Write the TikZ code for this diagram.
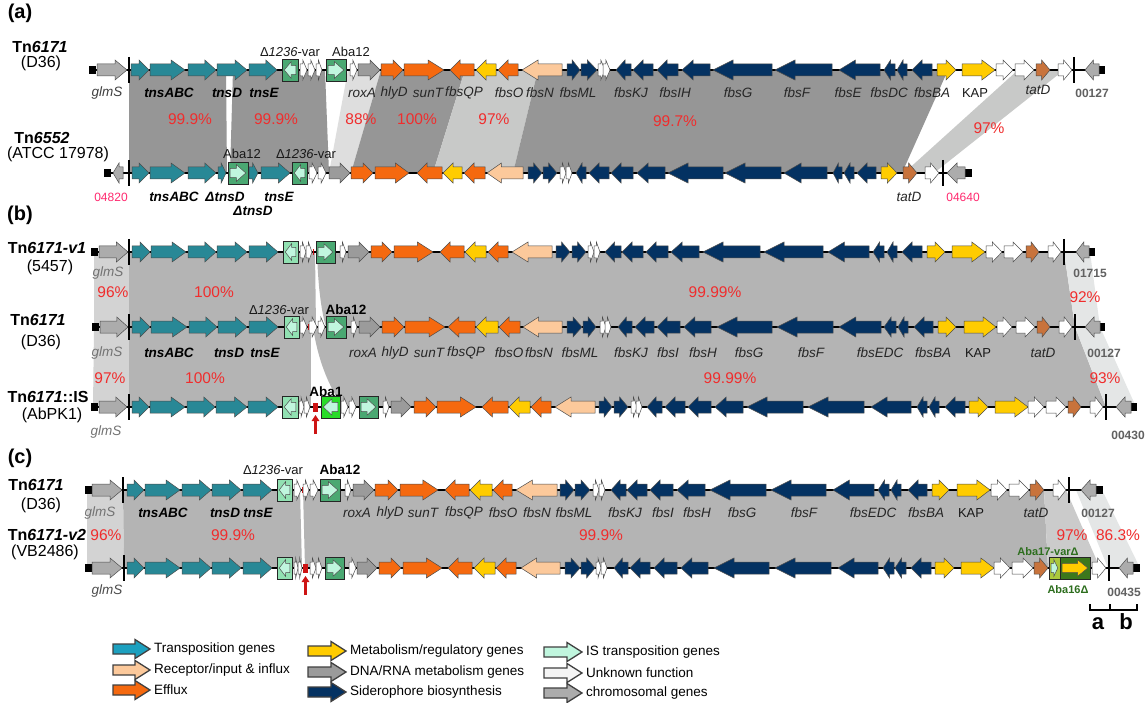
\documentclass[tikz,border=0pt]{standalone}
\usepackage{fontspec}
\setmainfont{Liberation Sans}
\usetikzlibrary{arrows.meta}
\definecolor{tns}{RGB}{40,136,150}
\definecolor{efx}{RGB}{245,105,15}
\definecolor{met}{RGB}{255,204,0}
\definecolor{rec}{RGB}{252,201,155}
\definecolor{sid}{RGB}{4,50,98}
\definecolor{chr}{RGB}{172,172,172}
\definecolor{dna}{RGB}{155,155,155}
\definecolor{wh}{RGB}{255,255,255}
\definecolor{tat}{RGB}{200,115,60}
\definecolor{isd}{RGB}{74,168,114}
\definecolor{isl}{RGB}{145,225,178}
\definecolor{mint}{RGB}{192,246,222}
\definecolor{abaone}{RGB}{40,220,40}
\definecolor{pct}{RGB}{240,45,45}
\definecolor{pinkc}{RGB}{255,40,110}
\definecolor{shA}{RGB}{150,150,150}
\definecolor{shAl}{RGB}{200,201,200}
\definecolor{shAx}{RGB}{222,222,222}
\definecolor{shB}{RGB}{180,180,180}
\definecolor{shL}{RGB}{211,211,211}
\definecolor{shR}{RGB}{228,230,230}
\definecolor{shC}{RGB}{203,203,203}
\definecolor{abg}{RGB}{45,110,30}
\definecolor{oliv}{RGB}{60,120,28}
\definecolor{ygrn}{RGB}{170,200,60}
\definecolor{redm}{RGB}{205,20,20}
\definecolor{legtn}{RGB}{28,160,191}
\definecolor{legwh}{RGB}{244,244,244}
\tikzset{
 qgene/.style={draw=black!70,line width=0.5pt,line join=miter},
 qis/.style={draw=black!85,line width=0.9pt},
 qbbs/.style={line width=2.8pt,black},
 qgl/.style={inner sep=0,font=\fontsize{13.5}{15}\selectfont\itshape,text=black!85},
 qgb/.style={inner sep=0,font=\fontsize{13.5}{15}\selectfont\bfseries\itshape,text=black},
 qgg/.style={inner sep=0,font=\fontsize{13.5}{15}\selectfont\itshape,text=black!55},
 qup/.style={inner sep=0,font=\fontsize{13}{15}\selectfont,text=black!90},
 qupb/.style={inner sep=0,font=\fontsize{13.5}{15}\selectfont\bfseries,text=black},
 qpc/.style={inner sep=0,font=\fontsize{15.5}{17}\selectfont,text=pct},
 qnum/.style={inner sep=0,font=\fontsize{12}{14}\selectfont\bfseries,text=black!62},
 qpnum/.style={inner sep=0,font=\fontsize{12}{14}\selectfont,text=pinkc},
 qtn/.style={inner sep=0,font=\fontsize{16}{18}\selectfont\bfseries},
 qst/.style={inner sep=0,font=\fontsize{16}{18}\selectfont},
 qpan/.style={inner sep=0,font=\fontsize{20}{22}\selectfont\bfseries},
 qleg/.style={inner sep=0,anchor=west,font=\fontsize{13.5}{15}\selectfont},
 qlegar/.style={draw=black!75,line width=1.3pt,line join=miter},
 qgrn/.style={inner sep=0,font=\fontsize{11}{13}\selectfont\bfseries,text=abg},
 qred/.style={draw=redm,line width=2.6pt,-{Triangle[width=7.5pt,length=6pt]}},
}
\def\bh{6}\def\hh{10}
\newcommand\gR[3]{%
  \pgfmathsetmacro\hlen{min(0.6*(#2-#1),max(10,min(20,0.4*(#2-#1))))}%
  \filldraw[qgene,fill=#3] (#1,\Y-\bh) -- ({#2-\hlen},\Y-\bh) -- ({#2-\hlen},\Y-\hh) -- (#2,\Y) -- ({#2-\hlen},\Y+\hh) -- ({#2-\hlen},\Y+\bh) -- (#1,\Y+\bh) -- cycle;}
\newcommand\gL[3]{%
  \pgfmathsetmacro\hlen{min(0.6*(#2-#1),max(10,min(20,0.4*(#2-#1))))}%
  \filldraw[qgene,fill=#3] (#2,\Y-\bh) -- ({#1+\hlen},\Y-\bh) -- ({#1+\hlen},\Y-\hh) -- (#1,\Y) -- ({#1+\hlen},\Y+\hh) -- ({#1+\hlen},\Y+\bh) -- (#2,\Y+\bh) -- cycle;}
\newcommand\isb[5]{%
  \filldraw[qis,fill=#3] (#1,\Y-11) rectangle (#2,\Y+11);
  \pgfmathsetmacro\ia{#1+2.2}\pgfmathsetmacro\ib{#2-2.2}%
  \begingroup\def\bh{4.6}\def\hh{8.3}%
  \ifx R#4\gR{\ia}{\ib}{#5}\else\gL{\ia}{\ib}{#5}\fi
  \endgroup}
\newcommand\qbb[2]{%
  \draw[qbbs] (#1,\Y) -- (#2,\Y);
  \fill (#1-1,\Y-4) rectangle (#1+6,\Y+4);
  \fill (#2-6,\Y-4) rectangle (#2+1,\Y+4);}
\newcommand\qbar[1]{\draw[line width=2.3pt] (#1,\Y-13) -- (#1,\Y+13);}
\newcommand\rtick[1]{\fill[redm] (#1,\Y-3) rectangle (#1+1.5,\Y+3);}
\newcommand\legR[4]{\filldraw[qlegar,fill=#4] (#1,#3-5) -- (#2-15,#3-5) -- (#2-15,#3-9.5) -- (#2,#3) -- (#2-15,#3+9.5) -- (#2-15,#3+5) -- (#1,#3+5) -- cycle;}
\begin{document}
\begin{tikzpicture}[x=1pt,y=-1pt]
\useasboundingbox[fill=white] (0,0) rectangle (1148,703);
% ================= (a) shading
\fill[shA] (129,70) -- (226,70) -- (227,173) -- (129,173) -- cycle;
\fill[shA] (233,70) -- (325,70) -- (329,173) -- (230,173) -- cycle;
\fill[shAx] (348,70) -- (381,70) -- (351,173) -- (329,173) -- cycle;
\fill[shA] (381,70) -- (465,70) -- (433,173) -- (351,173) -- cycle;
\fill[shAl] (465,70) -- (538,70) -- (513,173) -- (433,173) -- cycle;
\fill[shA] (538,70) -- (948,70) -- (902,173) -- (513,173) -- cycle;
\fill[shAl] (1018,70) -- (1064,70) -- (934,173) -- (904,173) -- cycle;
% ================= (b) shading
\fill[shL] (94,252) -- (129,252) -- (129,327) -- (94,327) -- cycle;
\fill[shB] (129,252) -- (315,252) -- (316,327) -- (129,327) -- cycle;
\fill[shB] (317,252) -- (1064,252) -- (1075,327) -- (326,327) .. controls (321,310) and (318,285) .. (317,252) -- cycle;
\fill[shR] (1064,252) -- (1090,252) -- (1100,327) -- (1075,327) -- cycle;
\fill[shL] (94,327) -- (129,327) -- (129,407) -- (93,407) -- cycle;
\fill[shB] (129,327) -- (311,327) -- (311,407) -- (129,407) -- cycle;
\fill[shB] (313,327) -- (1075,327) -- (1106,407) -- (343,407) .. controls (328,385) and (318,360) .. (313,327) -- cycle;
\fill[shR] (1075,327) -- (1100,327) -- (1136,407) -- (1106,407) -- cycle;
% ================= (c) shading
\fill[shL] (87,490) -- (123,490) -- (124,568) -- (87,568) -- cycle;
\fill[shB] (123,490) -- (300,490) -- (302,568) -- (124,568) -- cycle;
\fill[shB] (303,490) -- (1044,490) -- (1048,568) -- (305,568) -- cycle;
\fill[shC] (1044,490) -- (1066,490) -- (1100,568) -- (1048,568) -- cycle;
\fill[shR] (1076,490) -- (1102,490) -- (1140,568) -- (1108,568) -- cycle;
% ================= row a1
\def\Y{70}
\qbb{90}{1104}
\gR{97}{127}{chr}\qbar{129}
\gR{131}{149}{tns}\gR{150}{185}{tns}\gR{188}{216}{tns}\gR{217}{247}{tns}\gR{249}{277}{tns}
\isb{282}{298}{isd}{L}{mint}
\gR{300}{307}{wh}\gR{308}{315}{wh}\gR{316}{322}{wh}
\isb{326}{346}{isd}{R}{mint}
\gR{350}{357}{wh}
\gR{358}{380}{dna}\gR{381}{403}{efx}\gR{404}{444}{efx}
\gL{450}{474}{efx}\gL{476}{496}{met}\gL{498}{518}{efx}\gL{522}{562}{rec}
\gR{567}{580}{sid}\gR{581}{597}{sid}\gR{598}{605}{wh}\gR{603}{610}{wh}
\gL{616}{631}{sid}\gL{633}{653}{sid}\gL{657}{678}{sid}\gL{682}{710}{sid}\gL{713}{772}{sid}\gL{775}{832}{sid}\gL{839}{880}{sid}\gL{884}{895}{sid}\gL{897}{907}{sid}\gL{912}{932}{sid}
\gR{937}{956}{met}\gR{962}{995}{met}\gR{996}{1013}{wh}\gR{1015}{1034}{wh}\gR{1036}{1050}{tat}\gR{1058}{1072}{wh}
\qbar{1074}
\gL{1085}{1099}{chr}
% ================= row a2
\def\Y{173}
\qbb{105}{971}
\gL{113}{123}{chr}\qbar{129}
\gR{132}{149}{tns}\gR{150}{185}{tns}\gR{188}{216}{tns}\gR{218}{226}{tns}
\isb{228}{248}{isd}{R}{mint}
\gR{249}{258}{tns}\gR{261}{290}{tns}
\isb{292}{307}{isd}{L}{mint}
\gR{309}{317}{wh}\gR{318}{326}{wh}
\gR{329}{350}{dna}\gR{351}{373}{efx}\gR{375}{409}{efx}
\gL{417}{442}{efx}\gL{443}{462}{met}\gL{464}{485}{efx}\gL{487}{523}{rec}
\gR{528}{542}{sid}\gR{543}{557}{sid}\gR{560}{566}{wh}\gR{566}{572}{wh}
\gL{576}{586}{sid}\gL{589}{609}{sid}\gL{611}{633}{sid}\gL{637}{665}{sid}\gL{668}{723}{sid}\gL{725}{781}{sid}\gL{784}{827}{sid}\gL{833}{842}{sid}\gL{844}{854}{sid}\gL{857}{876}{sid}
\gR{881}{897}{met}\gR{903}{917}{tat}\gR{925}{939}{wh}
\qbar{943}
\gL{947}{965}{chr}
% ================= row b1
\def\Y{252}
\qbb{92}{1094}
\gR{99}{128}{chr}\qbar{129}
\gR{132}{150}{tns}\gR{151}{186}{tns}\gR{188}{216}{tns}\gR{217}{247}{tns}\gR{249}{278}{tns}
\isb{283}{298}{isl}{L}{mint}
\gR{300}{306}{wh}\gR{306}{312}{wh}\rtick{312.5}
\isb{316}{335}{isd}{R}{mint}
\gR{340}{346}{wh}
\gR{348}{369}{dna}\gR{371}{392}{efx}\gR{394}{433}{efx}
\gL{440}{464}{efx}\gL{465}{486}{met}\gL{488}{508}{efx}\gL{512}{552}{rec}
\gR{556}{570}{sid}\gR{572}{586}{sid}\gR{588}{594}{wh}\gR{594}{600}{wh}
\gL{605}{621}{sid}\gL{622}{643}{sid}\gL{646}{668}{sid}\gL{671}{699}{sid}\gL{703}{760}{sid}\gL{764}{823}{sid}\gL{828}{869}{sid}\gL{873}{884}{sid}\gL{887}{897}{sid}\gL{902}{922}{sid}
\gR{927}{945}{met}\gR{952}{985}{met}\gR{986}{1002}{wh}\gR{1004}{1023}{wh}\gR{1026}{1039}{tat}\gR{1048}{1061}{wh}
\qbar{1064}
\gL{1076}{1089}{chr}
% ================= row b2
\def\Y{327}
\qbb{93}{1104}
\gR{100}{128}{chr}\qbar{129}
\gR{132}{150}{tns}\gR{151}{187}{tns}\gR{189}{217}{tns}\gR{218}{247}{tns}\gR{249}{278}{tns}
\isb{284}{299}{isl}{L}{mint}
\gR{300}{307}{wh}\rtick{308}\gR{309}{317}{wh}\gR{318}{325}{wh}
\isb{326}{346}{isd}{R}{mint}
\gR{351}{357}{wh}
\gR{359}{380}{dna}\gR{382}{404}{efx}\gR{405}{445}{efx}
\gL{448}{475}{efx}\gL{476}{498}{met}\gL{499}{520}{efx}\gL{523}{562}{rec}
\gR{567}{582}{sid}\gR{583}{596}{sid}\gR{600}{606}{wh}\gR{605}{611}{wh}
\gL{618}{632}{sid}\gL{635}{654}{sid}\gL{657}{680}{sid}\gL{684}{711}{sid}\gL{717}{772}{sid}\gL{777}{833}{sid}\gL{839}{881}{sid}\gL{884}{896}{sid}\gL{898}{908}{sid}\gL{914}{933}{sid}
\gR{938}{956}{met}\gR{964}{996}{met}\gR{997}{1012}{wh}\gR{1016}{1035}{wh}\gR{1037}{1050}{tat}\gR{1059}{1072}{wh}
\qbar{1075}
\gL{1085}{1100}{chr}
% ================= row b3
\def\Y{407}
\qbb{92}{1136}
\gR{99}{127}{chr}\qbar{129}
\gR{132}{149}{tns}\gR{150}{185}{tns}\gR{187}{215}{tns}\gR{216}{247}{tns}\gR{248}{278}{tns}
\isb{282}{298}{isl}{L}{mint}
\gR{299}{304}{wh}\gR{304}{310}{wh}
\fill[redm] (313,\Y-4.5) rectangle (318,\Y+4.5);
\isb{321}{340}{abaone}{L}{mint}
\gR{341}{348}{wh}\gR{349}{356}{wh}
\isb{359}{378}{isd}{R}{mint}
\gR{383}{389}{wh}
\gR{391}{411}{dna}\gR{414}{436}{efx}\gR{437}{476}{efx}
\gL{482}{508}{efx}\gL{509}{530}{met}\gL{531}{551}{efx}\gL{555}{595}{rec}
\gR{599}{612}{sid}\gR{614}{628}{sid}\gR{631}{637}{wh}\gR{636}{642}{wh}
\gL{647}{662}{sid}\gL{665}{685}{sid}\gL{688}{711}{sid}\gL{715}{743}{sid}\gL{747}{803}{sid}\gL{808}{864}{sid}\gL{871}{911}{sid}\gL{917}{927}{sid}\gL{929}{939}{sid}\gL{945}{965}{sid}
\gR{969}{988}{met}\gR{995}{1028}{met}\gR{1028}{1044}{wh}\gR{1046}{1066}{wh}\gR{1068}{1081}{tat}\gR{1090}{1103}{wh}
\qbar{1106}
\gL{1116}{1131}{chr}
\coordinate (r1s) at (315.5,434);
\coordinate (r1e) at (315.5,415);
\draw[qred] (r1s) -- (r1e);
% ================= row c1
\def\Y{490}
\qbb{86}{1102}
\gR{92}{122}{chr}\qbar{123}
\gR{127}{144}{tns}\gR{145}{180}{tns}\gR{182}{211}{tns}\gR{212}{241}{tns}\gR{243}{272}{tns}
\isb{277}{292}{isl}{L}{mint}
\gR{294}{301}{wh}\rtick{302}\gR{303}{309}{wh}\gR{310}{318}{wh}
\isb{320}{340}{isd}{R}{mint}
\gR{345}{351}{wh}
\gR{353}{374}{dna}\gR{375}{398}{efx}\gR{400}{438}{efx}
\gL{445}{469}{efx}\gL{470}{492}{met}\gL{493}{512}{efx}\gL{516}{557}{rec}
\gR{560}{574}{sid}\gR{575}{590}{sid}\gR{593}{599}{wh}\gR{599}{605}{wh}
\gL{611}{626}{sid}\gL{627}{647}{sid}\gL{650}{673}{sid}\gL{677}{705}{sid}\gL{710}{766}{sid}\gL{771}{826}{sid}\gL{833}{874}{sid}\gL{878}{889}{sid}\gL{891}{901}{sid}\gL{908}{927}{sid}
\gR{932}{949}{met}\gR{957}{990}{met}\gR{991}{1007}{wh}\gR{1009}{1029}{wh}\gR{1030}{1044}{tat}\gR{1053}{1066}{wh}
\qbar{1069}
\gL{1081}{1096}{chr}
% ================= row c2
\def\Y{568}
\qbb{86}{1139}
\gR{92}{122}{chr}\qbar{124}
\gR{127}{144}{tns}\gR{145}{180}{tns}\gR{182}{211}{tns}\gR{212}{241}{tns}\gR{243}{272}{tns}
\isb{277}{292}{isl}{L}{mint}
\gR{294}{298}{wh}\gR{298}{302}{wh}
\fill[redm] (303,\Y-4.5) rectangle (308,\Y+4.5);
\gR{310}{316}{wh}\gR{316}{322}{wh}
\isb{325}{344}{isd}{R}{mint}
\gR{349}{356}{wh}
\gR{357}{377}{dna}\gR{379}{401}{efx}\gR{403}{442}{efx}
\gL{448}{472}{efx}\gL{474}{495}{met}\gL{496}{516}{efx}\gL{521}{560}{rec}
\gR{565}{580}{sid}\gR{581}{595}{sid}\gR{596}{601}{wh}\gR{601}{607}{wh}
\gL{614}{628}{sid}\gL{630}{650}{sid}\gL{654}{677}{sid}\gL{681}{708}{sid}\gL{714}{769}{sid}\gL{775}{831}{sid}\gL{838}{878}{sid}\gL{883}{894}{sid}\gL{895}{906}{sid}\gL{911}{931}{sid}
\gR{935}{954}{met}\gR{961}{994}{met}\gR{994}{1010}{wh}\gR{1012}{1033}{wh}\gR{1034}{1048}{tat}
\isb{1049}{1060}{ygrn}{R}{mint}
\isb{1060}{1090}{oliv}{R}{met}
\gR{1092}{1106}{wh}
\qbar{1109}
\gL{1119}{1133}{chr}
\coordinate (r2s) at (305.5,595);
\coordinate (r2e) at (305.5,576);
\draw[qred] (r2s) -- (r2e);
% ================= panel labels and strain names
\node[qpan] (pa) at (20,13) {(a)};
\node[qpan] (pb) at (20,215) {(b)};
\node[qpan] (pc) at (20,458) {(c)};
\node[qtn] (na1) at (40,47) {Tn\textit{6171}};
\node[qst] (sa1) at (41,63) {(D36)};
\node[qtn] (na2) at (42,138) {Tn\textit{6552}};
\node[qst] (sa2) at (58,154) {(ATCC 17978)};
\node[qtn] (nb1) at (47,248) {Tn\textit{6171-v1}};
\node[qst] (sb1) at (50,267) {(5457)};
\node[qtn] (nb2) at (38,320) {Tn\textit{6171}};
\node[qst] (sb2) at (41,342) {(D36)};
\node[qtn] (nb3) at (48,397) {Tn\textit{6171}::IS};
\node[qst] (sb3) at (52,415) {(AbPK1)};
\node[qtn] (nc1) at (36,485) {Tn\textit{6171}};
\node[qst] (sc1) at (41,505) {(D36)};
\node[qtn] (nc2) at (47,535) {Tn\textit{6171-v2}};
\node[qst] (sc2) at (45,552) {(VB2486)};
% ================= (a) labels
\node[qup] (a1is) at (290,52) {Δ\textit{1236}-var};
\node[qup] (a1ab) at (351,52) {Aba12};
\node[qgl,text=black!75] (a1g1) at (107,93) {glmS};
\node[qgb] (a1g2) at (169,93) {tnsABC};
\node[qgb] (a1g3) at (227,93) {tnsD};
\node[qgb] (a1g4) at (264,93) {tnsE};
\node[qgl] (a1g5) at (362,93) {roxA};
\node[qgl] (a1g6) at (394,93) {hlyD};
\node[qgl] (a1g7) at (428,93) {sunT};
\node[qgl] (a1g8) at (464,93) {fbsQP};
\node[qgl] (a1g9) at (509,93) {fbsO};
\node[qgl] (a1g10) at (540,93) {fbsN};
\node[qgl] (a1g11) at (578,93) {fbsML};
\node[qgl] (a1g12) at (631,93) {fbsKJ};
\node[qgl] (a1g13) at (675,93) {fbsIH};
\node[qgl] (a1g14) at (738,93) {fbsG};
\node[qgl] (a1g15) at (797,93) {fbsF};
\node[qgl] (a1g16) at (848,93) {fbsE};
\node[qgl] (a1g17) at (889,93) {fbsDC};
\node[qgl] (a1g18) at (932,93) {fbsBA};
\node[qup] (a1g19) at (975,93) {KAP};
\node[qgl] (a1g20) at (1038,90) {tatD};
\node[qnum] (a1n) at (1092,93) {00127};
\node[qup] (a2ab) at (242,154) {Aba12};
\node[qup] (a2is) at (306,154) {Δ\textit{1236}-var};
\node[qpnum] (a2n1) at (111,197) {04820};
\node[qgb] (a2g1) at (174,197) {tnsABC};
\node[qgb] (a2g2) at (225,197) {ΔtnsD};
\node[qgb] (a2g3) at (279,197) {tnsE};
\node[qgb] (a2g4) at (253,211) {ΔtnsD};
\node[qgl] (a2g5) at (909,197) {tatD};
\node[qpnum] (a2n2) at (963,197) {04640};
\node[qpc] (ap1) at (190,119) {99.9\%};
\node[qpc] (ap2) at (276,119) {99.9\%};
\node[qpc] (ap3) at (361,119) {88\%};
\node[qpc] (ap4) at (417,119) {100\%};
\node[qpc] (ap5) at (494,119) {97\%};
\node[qpc] (ap6) at (675,121) {99.7\%};
\node[qpc] (ap7) at (989,128) {97\%};
% ================= (b) labels
\node[qgg] (b1g) at (108,273) {glmS};
\node[qnum] (b1n) at (1090,273) {01715};
\node[qpc] (bp1) at (113,292) {96\%};
\node[qpc] (bp2) at (214,292) {100\%};
\node[qpc] (bp3) at (715,292) {99.99\%};
\node[qpc] (bp4) at (1085,297) {92\%};
\node[qup] (b2is) at (279,310) {Δ\textit{1236}-var};
\node[qupb] (b2ab) at (346,310) {Aba12};
\node[qgg] (b2g1) at (107,353) {glmS};
\node[qgb] (b2g2) at (169,353) {tnsABC};
\node[qgb] (b2g3) at (229,353) {tnsD};
\node[qgb] (b2g4) at (265,353) {tnsE};
\node[qgl] (b2g5) at (363,353) {roxA};
\node[qgl] (b2g6) at (395,353) {hlyD};
\node[qgl] (b2g7) at (429,353) {sunT};
\node[qgl] (b2g8) at (466,353) {fbsQP};
\node[qgl] (b2g9) at (509,353) {fbsO};
\node[qgl] (b2g10) at (539,353) {fbsN};
\node[qgl] (b2g11) at (580,353) {fbsML};
\node[qgl] (b2g12) at (631,353) {fbsKJ};
\node[qgl] (b2g13) at (668,353) {fbsI};
\node[qgl] (b2g14) at (703,353) {fbsH};
\node[qgl] (b2g15) at (749,353) {fbsG};
\node[qgl] (b2g16) at (811,353) {fbsF};
\node[qgl] (b2g17) at (880,353) {fbsEDC};
\node[qgl] (b2g18) at (933,353) {fbsBA};
\node[qup] (b2g19) at (978,353) {KAP};
\node[qgl] (b2g20) at (1043,353) {tatD};
\node[qnum] (b2n) at (1104,353) {00127};
\node[qpc] (bp5) at (110,378) {97\%};
\node[qpc] (bp6) at (205,378) {100\%};
\node[qpc] (bp7) at (730,378) {99.99\%};
\node[qpc] (bp8) at (1105,378) {93\%};
\node[qupb] (b3ab) at (326,392) {Aba1};
\node[qgg] (b3g) at (106,432) {glmS};
\node[qnum] (b3n) at (1128,435) {00430};
% ================= (c) labels
\node[qup] (c1is) at (273,470) {Δ\textit{1236}-var};
\node[qupb] (c1ab) at (340,470) {Aba12};
\node[qgg] (c1g1) at (100,513) {glmS};
\node[qgb] (c1g2) at (163,513) {tnsABC};
\node[qgb] (c1g3) at (225,513) {tnsD};
\node[qgb] (c1g4) at (258,513) {tnsE};
\node[qgl] (c1g5) at (357,513) {roxA};
\node[qgl] (c1g6) at (390,513) {hlyD};
\node[qgl] (c1g7) at (423,513) {sunT};
\node[qgl] (c1g8) at (464,513) {fbsQP};
\node[qgl] (c1g9) at (503,513) {fbsO};
\node[qgl] (c1g10) at (537,513) {fbsN};
\node[qgl] (c1g11) at (574,513) {fbsML};
\node[qgl] (c1g12) at (625,513) {fbsKJ};
\node[qgl] (c1g13) at (663,513) {fbsI};
\node[qgl] (c1g14) at (697,513) {fbsH};
\node[qgl] (c1g15) at (742,513) {fbsG};
\node[qgl] (c1g16) at (804,513) {fbsF};
\node[qgl] (c1g17) at (873,513) {fbsEDC};
\node[qgl] (c1g18) at (926,513) {fbsBA};
\node[qup] (c1g19) at (971,513) {KAP};
\node[qgl] (c1g20) at (1036,513) {tatD};
\node[qnum] (c1n) at (1098,513) {00127};
\node[qpc] (cp1) at (106,535) {96\%};
\node[qpc] (cp2) at (233,535) {99.9\%};
\node[qpc] (cp3) at (601,535) {99.9\%};
\node[qpc] (cp4) at (1072,535) {97\%};
\node[qpc] (cp5) at (1118,535) {86.3\%};
\node[qgrn] (c2a17) at (1048,552) {Aba17-varΔ};
\node[qgrn] (c2a16) at (1068,590) {Aba16Δ};
\node[qgl,text=black!70] (c2g) at (107,591) {glmS};
\node[qnum] (c2n) at (1124,592) {00435};
% ================= scale bar
\draw[line width=1.6pt] (1090,604) -- (1090,610) -- (1137,610) -- (1137,604);
\draw[line width=1.6pt] (1110,604) -- (1110,610);
\node[inner sep=0,font=\fontsize{22}{24}\selectfont\bfseries] (sca) at (1098,624) {a};
\node[inner sep=0,font=\fontsize{22}{24}\selectfont\bfseries] (scb) at (1126,622) {b};
% ================= legend
\legR{113}{150}{649}{legtn}
\legR{113}{150}{670}{rec}
\legR{113}{150}{690}{efx}
\legR{308}{346}{651}{met}
\legR{308}{346}{672}{dna}
\legR{308}{346}{692}{sid}
\legR{544}{582}{652}{mint}
\legR{544}{582}{673}{legwh}
\legR{544}{582}{693}{chr}
\node[qleg] (l1) at (154,649) {Transposition genes};
\node[qleg] (l2) at (154,670) {Receptor/input \& influx};
\node[qleg] (l3) at (154,690) {Efflux};
\node[qleg] (l4) at (350,651) {Metabolism/regulatory genes};
\node[qleg] (l5) at (350,672) {DNA/RNA metabolism genes};
\node[qleg] (l6) at (350,692) {Siderophore biosynthesis};
\node[qleg] (l7) at (586,652) {IS transposition genes};
\node[qleg] (l8) at (586,673) {Unknown function};
\node[qleg] (l9) at (586,693) {chromosomal genes};
\end{tikzpicture}
\end{document}
